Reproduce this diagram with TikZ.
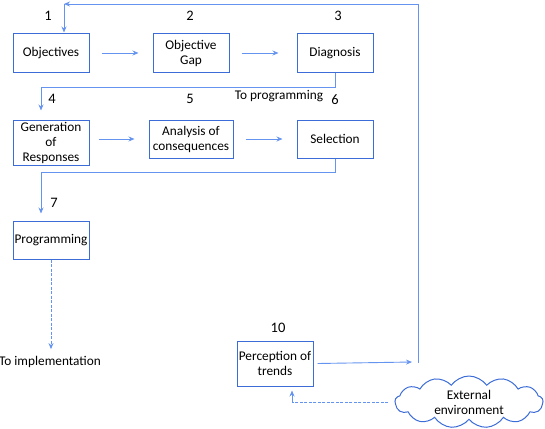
\documentclass[tikz,border=0pt]{standalone}
\usepackage{fontspec}
\setmainfont{Carlito}
\usetikzlibrary{arrows.meta,shapes.symbols}
\definecolor{boxblue}{RGB}{60,108,215}
\definecolor{lineblue}{RGB}{100,148,240}
\tikzset{
  blk/.style={draw=boxblue,line width=1pt,minimum width=76pt,minimum height=38pt,align=center,inner sep=1pt,font=\fontsize{13.3}{15}\selectfont},
  num/.style={font=\fontsize{14.5}{16}\selectfont,inner sep=0pt},
  lbl/.style={font=\fontsize{13.3}{15}\selectfont,inner sep=0pt},
  con/.style={draw=lineblue,line width=0.9pt,-{Stealth[length=6pt,width=5pt]}},
  plain/.style={draw=lineblue,line width=0.9pt},
  dsh/.style={dash pattern=on 3pt off 1.5pt}
}
\begin{document}
\begin{tikzpicture}[x=1pt,y=-1pt]
\useasboundingbox (0,0) rectangle (545,428);
\node[blk] (obj) at (51,53) {Objectives};
\node[blk] (gap) at (191,53) {Objective\\Gap};
\node[blk] (diag) at (335,53) {Diagnosis};
\node[blk,minimum height=45pt] (gen) at (51,142.5) {Generation\\of\\Responses};
\node[blk,minimum width=84pt] (ana) at (191,139) {Analysis of\\consequences};
\node[blk] (sel) at (335,139) {Selection};
\node[blk] (prog) at (51,240) {Programming};
\node[blk,minimum height=45pt] (perc) at (275,363.5) {Perception of\\trends};
\node[cloud,cloud puffs=13,cloud puff arc=110,aspect=3,draw=boxblue,line width=1pt,minimum width=148pt,minimum height=52pt,align=center,inner sep=0pt,font=\fontsize{13.3}{15}\selectfont] (env) at (469,402) {External\\environment};

\node[num] (n1) at (48,16) {1};
\node[num] (n2) at (190,16) {2};
\node[num] (n3) at (338,16) {3};
\node[num] (n4) at (52,99) {4};
\node[num] (n5) at (190,99) {5};
\node[num] (n6) at (335,100) {6};
\node[num] (n7) at (54,203) {7};
\node[num] (n10) at (278,328) {10};
\node[lbl] (toprog) at (279,96) {To programming};
\node[lbl] (impl) at (50,362) {To implementation};

\coordinate (fb) at (412,362);
\coordinate (fbend) at (418,363);
\coordinate (tr) at (418,4);
\coordinate (tl) at (64,4);

\draw[con] ([xshift=12pt]obj.east) -- ([xshift=-14pt]gap.west);
\draw[con] ([xshift=12pt]gap.east) -- ([xshift=-18pt]diag.west);
\draw[con] ([xshift=9pt]gen.east |- ana.west) -- ([xshift=-14pt]ana.west);
\draw[con] ([xshift=12pt]ana.east) -- ([xshift=-14pt]sel.west);
\draw[con] (diag.south) -- ++(0,15) -| ([xshift=-10pt,yshift=9pt]gen.north);
\draw[con] (sel.south) -- ++(0,14) -| ([xshift=-10pt,yshift=7pt]prog.north);
\draw[con,dsh] (prog.south) -- ([yshift=7pt]impl.north -| prog.south);
\draw[con] ([xshift=4pt]perc.east) -- (fb);
\draw[con] (fbend) -- (tr) -- (tl);
\draw[con] (tl) -- ([yshift=1pt]obj.north -| tl);
\draw[plain,dsh] ([xshift=-6pt]env.west) -- ([xshift=17pt]perc.south |- env.west) coordinate (cb);
\draw[con] (cb) -- ([xshift=17pt,yshift=-4pt]perc.south);
\end{tikzpicture}
\end{document}
